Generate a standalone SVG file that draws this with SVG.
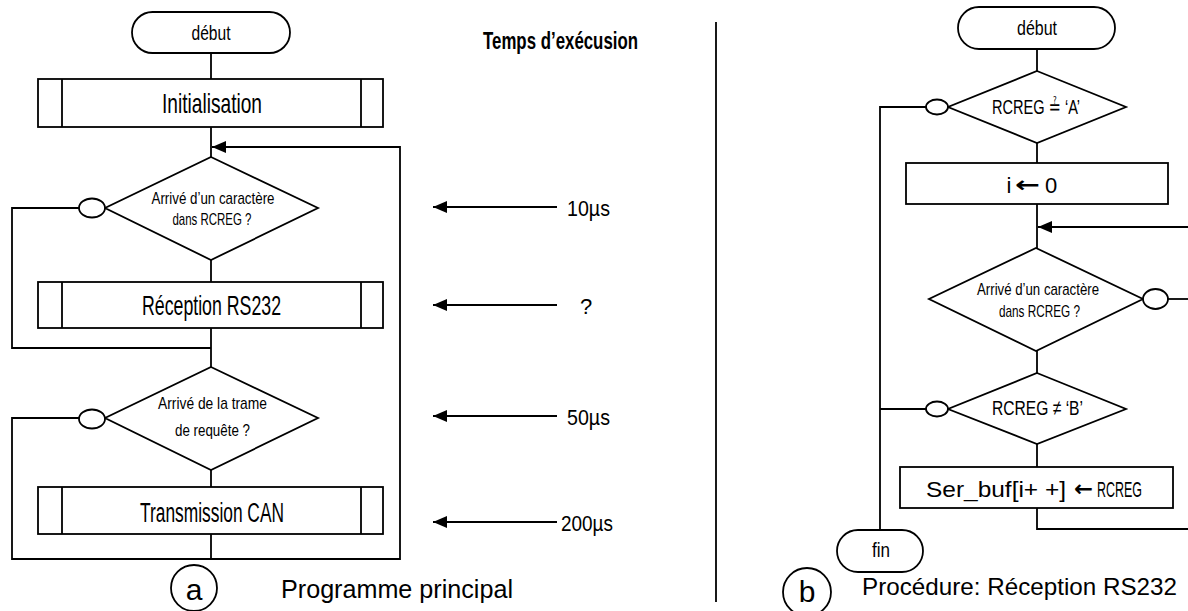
<svg xmlns="http://www.w3.org/2000/svg" width="1188" height="611" viewBox="0 0 1188 611">
  <style>
    .shape { fill: #fff; stroke: #000; stroke-width: 1.8; }
    .ln { fill: none; stroke: #000; stroke-width: 1.8; }
    .t { font-family: "Liberation Sans Narrow", "Liberation Sans", Arial, "DejaVu Sans", sans-serif; fill: #000; }
    .c { text-anchor: middle; }
    .cap { font-family: "Liberation Sans", Arial, sans-serif; fill: #000; }
    .arw { font-family: "DejaVu Sans", sans-serif; font-weight: bold; fill: #000; }
  </style>
  <defs>
    <marker id="head" markerUnits="userSpaceOnUse" markerWidth="15" markerHeight="12" refX="14" refY="6" orient="auto">
      <path d="M0,0 L14,6 L0,12 Z" fill="#000"/>
    </marker>
  </defs>

  <!-- ===== (a) main program ===== -->
  <g id="connectors-a">
    <path class="ln" d="M211,53 V79"/>
    <path class="ln" d="M211,127 V157"/>
    <path class="ln" d="M211,260 V282"/>
    <path class="ln" d="M211,328 V367"/>
    <path class="ln" d="M211,470 V487"/>
    <path class="ln" d="M211,534 V559"/>
    <path class="ln" d="M79,208 H12 V348 H211"/>
    <path class="ln" d="M79,418 H12 V559 H400 V147 H212" marker-end="url(#head)"/>
  </g>

  <g id="a-start">
    <rect class="shape" x="132" y="12" width="158" height="41" rx="20.5"/>
    <text class="t c" x="211" y="40" font-size="20" textLength="39" lengthAdjust="spacingAndGlyphs">début</text>
  </g>

  <g id="a-init">
    <rect class="shape" x="38" y="79" width="345" height="48"/>
    <path class="ln" d="M62,79 V127 M361,79 V127"/>
    <text class="t c" x="212" y="113" font-size="28" textLength="100" lengthAdjust="spacingAndGlyphs">Initialisation</text>
  </g>

  <g id="a-test-char">
    <polygon class="shape" points="211,157 318,208 211,260 105,208"/>
    <ellipse class="shape" cx="92" cy="208" rx="13" ry="9.5"/>
    <text class="t c" x="213" y="204" font-size="17" textLength="123" lengthAdjust="spacingAndGlyphs">Arrivé d’un caractère</text>
    <text class="t c" x="212" y="225" font-size="17" textLength="79" lengthAdjust="spacingAndGlyphs">dans RCREG ?</text>
  </g>

  <g id="a-rx">
    <rect class="shape" x="38" y="282" width="345" height="46"/>
    <path class="ln" d="M62,282 V328 M361,282 V328"/>
    <text class="t c" x="211.5" y="315" font-size="28" textLength="139" lengthAdjust="spacingAndGlyphs">Réception RS232</text>
  </g>

  <g id="a-test-frame">
    <polygon class="shape" points="211,367 318,418 211,470 105,418"/>
    <ellipse class="shape" cx="92" cy="419" rx="13" ry="9.5"/>
    <text class="t c" x="212.5" y="409" font-size="17" textLength="109" lengthAdjust="spacingAndGlyphs">Arrivé de la trame</text>
    <text class="t c" x="212.5" y="436" font-size="17" textLength="75" lengthAdjust="spacingAndGlyphs">de requête ?</text>
  </g>

  <g id="a-tx">
    <rect class="shape" x="38" y="487" width="345" height="47"/>
    <path class="ln" d="M62,487 V534 M361,487 V534"/>
    <text class="t c" x="212" y="522" font-size="27" textLength="144" lengthAdjust="spacingAndGlyphs">Transmission CAN</text>
  </g>

  <g id="a-caption">
    <circle class="shape" cx="194" cy="588" r="23"/>
    <text class="cap c" x="194" y="600" font-size="30">a</text>
    <text class="cap" x="281" y="598" font-size="25" textLength="232" lengthAdjust="spacingAndGlyphs">Programme principal</text>
  </g>

  <!-- execution times -->
  <g id="timing">
    <text class="t" x="483" y="49" font-size="24" font-weight="bold" textLength="155" lengthAdjust="spacingAndGlyphs">Temps d’exécusion</text>
    <path class="ln" d="M557,207 H433" marker-end="url(#head)"/>
    <path class="ln" d="M557,305 H433" marker-end="url(#head)"/>
    <path class="ln" d="M557,416 H433" marker-end="url(#head)"/>
    <path class="ln" d="M557,522 H433" marker-end="url(#head)"/>
    <text class="t" x="567" y="216" font-size="22" textLength="43" lengthAdjust="spacingAndGlyphs">10µs</text>
    <text class="t c" x="586" y="314" font-size="22">?</text>
    <text class="t" x="567" y="425" font-size="22" textLength="43" lengthAdjust="spacingAndGlyphs">50µs</text>
    <text class="t" x="561" y="531" font-size="22" textLength="52" lengthAdjust="spacingAndGlyphs">200µs</text>
  </g>

  <line class="ln" x1="716" y1="22" x2="716" y2="602" stroke-width="1.5"/>

  <!-- ===== (b) RS232 reception procedure ===== -->
  <g id="connectors-b">
    <path class="ln" d="M1037,49 V71"/>
    <path class="ln" d="M1037,143 V163"/>
    <path class="ln" d="M1037,204 V248"/>
    <path class="ln" d="M1037,351 V373"/>
    <path class="ln" d="M1037,444 V467"/>
    <path class="ln" d="M1190,227 H1038" marker-end="url(#head)"/>
    <path class="ln" d="M1168,299 H1190"/>
    <path class="ln" d="M1037,508 V529 H1190"/>
    <path class="ln" d="M926,107 H880 V530"/>
    <path class="ln" d="M926,409 H880"/>
  </g>

  <g id="b-start">
    <rect class="shape" x="958" y="7" width="157" height="42" rx="21"/>
    <text class="t c" x="1037" y="35" font-size="20" textLength="40" lengthAdjust="spacingAndGlyphs">début</text>
  </g>

  <g id="b-test-a">
    <polygon class="shape" points="1037,71 1126,107 1037,143 948,107"/>
    <ellipse class="shape" cx="937" cy="107" rx="11" ry="7.5"/>
    <text class="t" x="992" y="114" font-size="21" textLength="88" lengthAdjust="spacingAndGlyphs">RCREG ≟ ‘A’</text>
  </g>

  <g id="b-init">
    <rect class="shape" x="906" y="163" width="262" height="41"/>
    <text class="t c" x="1009" y="193" font-size="22">i</text>
    <text class="arw" x="1015" y="192" font-size="22" textLength="25" lengthAdjust="spacingAndGlyphs">←</text>
    <text class="t c" x="1051" y="193" font-size="22">0</text>
  </g>

  <g id="b-test-char">
    <polygon class="shape" points="1036,248 1143,299 1036,351 929,299"/>
    <ellipse class="shape" cx="1155.5" cy="299" rx="12.5" ry="10"/>
    <text class="t c" x="1038" y="295" font-size="17" textLength="122" lengthAdjust="spacingAndGlyphs">Arrivé d’un caractère</text>
    <text class="t c" x="1039.5" y="317" font-size="17" textLength="81" lengthAdjust="spacingAndGlyphs">dans RCREG ?</text>
  </g>

  <g id="b-test-b">
    <polygon class="shape" points="1037,373 1126,409 1037,444 948,409"/>
    <ellipse class="shape" cx="937" cy="409" rx="11" ry="7.5"/>
    <text class="t" x="992" y="415" font-size="21" textLength="91" lengthAdjust="spacingAndGlyphs">RCREG ≠ ‘B’</text>
  </g>

  <g id="b-store">
    <rect class="shape" x="900" y="467" width="273" height="41"/>
    <text class="t" x="926" y="497" font-size="22" textLength="140" lengthAdjust="spacingAndGlyphs">Ser_buf[i+ +]</text>
    <text class="arw" x="1074" y="496" font-size="22" textLength="19" lengthAdjust="spacingAndGlyphs">←</text>
    <text class="t" x="1097" y="497" font-size="22" textLength="45" lengthAdjust="spacingAndGlyphs">RCREG</text>
  </g>

  <g id="b-end">
    <rect class="shape" x="837" y="530" width="86" height="42" rx="21"/>
    <text class="t c" x="881" y="557" font-size="20" textLength="18" lengthAdjust="spacingAndGlyphs">fin</text>
  </g>

  <g id="b-caption">
    <circle class="shape" cx="807" cy="592" r="24"/>
    <text class="cap c" x="807" y="602" font-size="30">b</text>
    <text class="cap" x="862" y="595" font-size="24.5" textLength="315" lengthAdjust="spacingAndGlyphs">Procédure: Réception RS232</text>
  </g>
</svg>
